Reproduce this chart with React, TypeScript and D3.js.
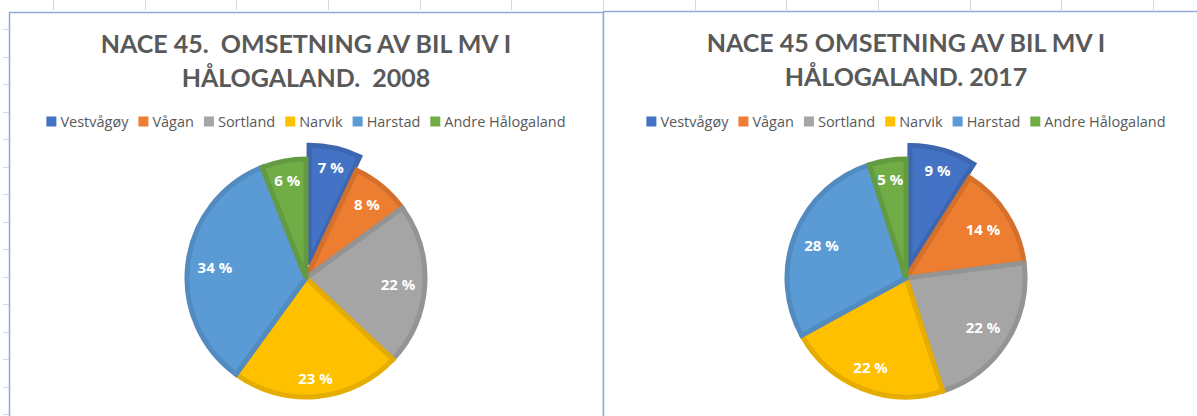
import React, { useEffect, useRef } from "react";
import * as d3 from "d3";

const categories = ["Vestvågøy", "Vågan", "Sortland", "Narvik", "Harstad", "Andre Hålogaland"];
const values2008 = [7, 8, 22, 23, 34, 6];
const values2017 = [9, 14, 22, 22, 28, 5];
const colors = ["#4472C4", "#ED7D31", "#A5A5A5", "#FFC000", "#5B9BD5", "#70AD47"];
const title2008 = ["NACE 45.  OMSETNING AV BIL MV I", "HÅLOGALAND.  2008"];
const title2017 = ["NACE 45 OMSETNING AV BIL MV I", "HÅLOGALAND. 2017"];
const explodedIndex = 0;

const W = 1197;
const H = 416;
const TITLE_FONT = "Lato, 'Open Sans', sans-serif";
const FONT = "'Open Sans', Lato, sans-serif";

export default function App() {
  const ref = useRef<SVGSVGElement | null>(null);

  useEffect(() => {
    const svg = d3.select(ref.current);
    svg.selectAll("*").remove();

    // sheet gridline stubs
    const colStep = 91.67;
    const grid = svg.append("g").attr("stroke", "#d9d9d9").attr("stroke-width", 1);
    d3.range(53, W, colStep).forEach((x) => {
      grid.append("line").attr("x1", Math.round(x) + 0.5).attr("x2", Math.round(x) + 0.5).attr("y1", 0).attr("y2", 10);
    });
    d3.range(29, H, 27.5).forEach((y) => {
      grid.append("line").attr("x1", 3).attr("x2", 9).attr("y1", Math.round(y) + 0.5).attr("y2", Math.round(y) + 0.5);
    });

    const panels = [
      { x0: 9, y0: 12, x1: 603, cx: 306, ty: 53, values: values2008, title: title2008 },
      { x0: 603, y0: 11, x1: 1210, cx: 906, ty: 52, values: values2017, title: title2017 },
    ];

    panels.forEach((p) => {
      const g = svg.append("g");
      g.append("rect")
        .attr("x", p.x0 + 0.5)
        .attr("y", p.y0 + 0.5)
        .attr("width", p.x1 - p.x0)
        .attr("height", H + 20)
        .attr("fill", "#fff")
        .attr("stroke", "#8faadc")
        .attr("stroke-width", 1.5);

      // title
      p.title.forEach((t, i) => {
        g.append("text")
          .attr("x", p.cx)
          .attr("y", p.ty + i * 34)
          .attr("text-anchor", "middle")
          .style("white-space", "pre")
          .attr("font-family", TITLE_FONT)
          .attr("font-weight", "bold")
          .attr("font-size", 25)
          .attr("fill", "#595959")
          .text(t);
      });

      // legend
      const lg = g.append("g");
      let x = 0;
      const sq = 10;
      const gapText = 4;
      const gapItem = 10;
      categories.forEach((c, i) => {
        lg.append("rect").attr("x", x).attr("y", 116.5).attr("width", sq).attr("height", sq).attr("fill", colors[i]);
        const tx = lg
          .append("text")
          .attr("x", x + sq + gapText)
          .attr("y", 126.5)
          .attr("font-family", FONT)
          .attr("font-size", 14.5)
          .attr("fill", "#595959")
          .text(c);
        const w = (tx.node() as SVGTextElement).getComputedTextLength();
        x += sq + gapText + w + gapItem;
      });
      const total = x - gapItem;
      lg.attr("transform", `translate(${p.cx - total / 2},0)`);

      // pie
      const cy = 278;
      const r = 119;
      const explode = 14;
      const arcs = d3.pie<number>().sort(null).value((d) => d)(p.values);
      const arcGen = d3.arc<d3.PieArcDatum<number>>().innerRadius(0).outerRadius(r);
      const pg = g.append("g").attr("transform", `translate(${p.cx},${cy})`);
      arcs.forEach((a, i) => {
        const mid = (a.startAngle + a.endAngle) / 2;
        const off = i === explodedIndex ? explode : 0;
        const ox = Math.sin(mid) * off;
        const oy = -Math.cos(mid) * off;
        const sg = pg.append("g").attr("transform", `translate(${ox},${oy})`);
        const col = d3.color(colors[i])!;
        sg.append("path")
          .attr("d", arcGen(a)!)
          .attr("fill", colors[i])
          .attr("stroke", col.darker(0.3).formatHex())
          .attr("stroke-width", 5)
          .attr("stroke-linejoin", "miter");
      });
      arcs.forEach((a, i) => {
        const mid = (a.startAngle + a.endAngle) / 2;
        const off = i === explodedIndex ? explode : 0;
        const label = `${a.data} %`;
        const t = pg
          .append("text")
          .attr("font-family", FONT)
          .attr("font-weight", "bold")
          .attr("font-size", 15)
          .attr("fill", "#fff")
          .attr("text-anchor", "middle")
          .attr("dominant-baseline", "central")
          .text(label);
        const w = (t.node() as SVGTextElement).getComputedTextLength();
        const h = 16;
        const ext = Math.abs(Math.sin(mid)) * w / 2 + Math.abs(Math.cos(mid)) * h / 2;
        const rho = r - 9 - ext + off;
        t.attr("x", Math.sin(mid) * rho).attr("y", -Math.cos(mid) * rho);
      });
    });
  }, []);

  return (
    <div style={{ position: "absolute", left: 0, top: 0 }}>
      <svg ref={ref} width={W} height={H} style={{ display: "block", background: "#fff" }} />
    </div>
  );
}
